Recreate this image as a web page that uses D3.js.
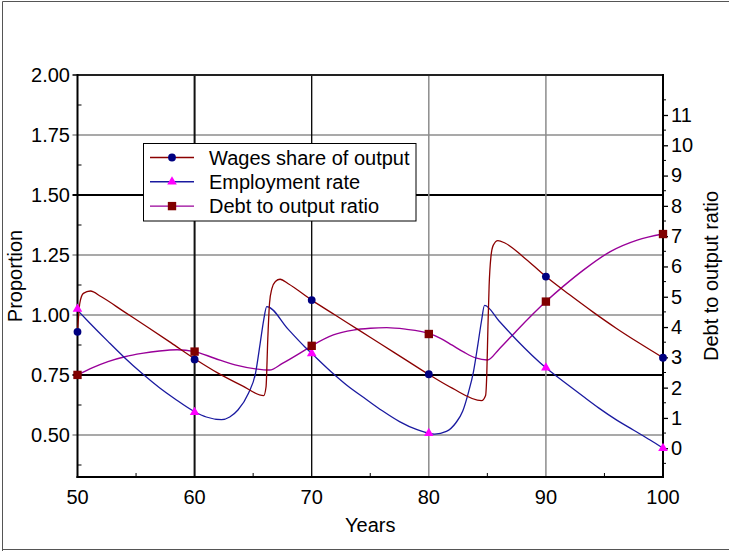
<!DOCTYPE html>
<html>
<head>
<meta charset="utf-8">
<script src="https://cdn.jsdelivr.net/npm/d3@7/dist/d3.min.js"></script>
<style>
  html, body { margin: 0; padding: 0; background: #fff; }
  svg { display: block; font-family: "Liberation Sans", Arial, sans-serif; }
</style>
</head>
<body>
<svg id="chart" width="729" height="551"></svg>
<script>
// ---- Data ----
const wagesYears = [50, 50.2, 50.5, 51.1, 52, 54, 56, 58, 60, 62, 64, 65.9, 66.1, 66.25, 66.4, 66.6, 66.9, 67.3, 68, 70, 72, 74, 76, 78, 80, 82, 84.5, 84.85, 84.95, 85.05, 85.15, 85.3, 85.5, 85.9, 86.5, 88, 90, 92, 94, 96, 98, 100];
const wagesShare = [0.93, 1.05, 1.09, 1.10, 1.077, 1.013, 0.949, 0.884, 0.818, 0.758, 0.707, 0.664, 0.70, 0.90, 1.05, 1.11, 1.14, 1.149, 1.13, 1.062, 1.0, 0.938, 0.876, 0.814, 0.752, 0.695, 0.643, 0.665, 0.75, 0.95, 1.12, 1.24, 1.29, 1.31, 1.30, 1.245, 1.16, 1.085, 1.013, 0.945, 0.882, 0.822];

const emplYears = [50, 51, 52.6, 54, 55.5, 57, 58.3, 60, 61, 62.3, 63, 63.7, 64.6, 65.2, 65.6, 65.9, 66.16, 68, 69.4, 70, 71.85, 73, 74.7, 76, 77.5, 79, 80, 80.5, 81.5, 82.3, 82.9, 83.4, 83.8, 84.2, 84.5, 84.76, 86, 87.5, 90, 91.5, 93.2, 94.5, 96.05, 97.5, 98.9, 100];
const emplRate = [1.02, 0.969, 0.89, 0.823, 0.757, 0.697, 0.651, 0.597, 0.575, 0.564, 0.575, 0.604, 0.674, 0.757, 0.882, 0.979, 1.035, 0.94, 0.868, 0.84, 0.755, 0.707, 0.647, 0.602, 0.556, 0.522, 0.507, 0.504, 0.515, 0.55, 0.60, 0.68, 0.76, 0.88, 0.975, 1.04, 0.975, 0.896, 0.78, 0.723, 0.66, 0.613, 0.562, 0.52, 0.479, 0.445];

const debtYears = [50, 51.3, 52.6, 54.05, 55.5, 57, 58.5, 60, 61.7, 63.45, 65.2, 66.4, 67.5, 69, 70, 71.85, 73.55, 75, 76.4, 78, 80, 81, 82, 83, 84, 85, 86, 87.5, 90, 91.5, 93.2, 95.5, 97.8, 100];
const debtRatio = [2.42, 2.66, 2.86, 3.02, 3.13, 3.21, 3.25, 3.19, 2.97, 2.75, 2.62, 2.58, 2.80, 3.14, 3.38, 3.74, 3.90, 3.96, 3.98, 3.93, 3.79, 3.63, 3.40, 3.17, 2.98, 2.91, 3.27, 3.88, 4.84, 5.35, 5.88, 6.49, 6.87, 7.07];

const markerYears = [50, 60, 70, 80, 90, 100];
const wagesMarkers = [0.93, 0.815, 1.062, 0.753, 1.16, 0.822];
const emplMarkers = [1.025, 0.595, 0.84, 0.507, 0.78, 0.445];
const debtMarkers = [2.42, 3.19, 3.38, 3.77, 4.84, 7.07];

const xTicks = [50, 60, 70, 80, 90, 100];
const xMinorTicks = [55, 65, 75, 85, 95];
const leftTicks = [0.50, 0.75, 1.00, 1.25, 1.50, 1.75, 2.00];
const leftMinorTicks = [0.375, 0.625, 0.875, 1.125, 1.375, 1.625, 1.875];
const rightTicks = [0, 1, 2, 3, 4, 5, 6, 7, 8, 9, 10, 11];
const rightMinorTicks = [-0.5, 0.5, 1.5, 2.5, 3.5, 4.5, 5.5, 6.5, 7.5, 8.5, 9.5, 10.5, 11.5];
const seriesNames = ["Wages share of output", "Employment rate", "Debt to output ratio"];

// ---- Layout ----
const L = 77.5, R = 663, T = 75, B = 477;
const svg = d3.select("#chart");

const x = d3.scaleLinear().domain([50, 100]).range([L, R]);
const yL = d3.scaleLinear().domain([0.325, 2.0]).range([B, T]);
const yR = d3.scaleLinear().domain([-0.95, 12.32]).range([B, T]);

// outer frame
svg.append("path").attr("d", `M2.5,551 V1.5 H729 M2.5,549.5 H729`)
  .attr("fill", "none").attr("stroke", "#555").attr("stroke-width", 1);

// horizontal gridlines
const hGridStyle = { 1.75: ["#8c8c8c", 1.5], 1.5: ["#000", 2], 1.25: ["#8c8c8c", 1.5], 1.0: ["#8c8c8c", 1.5], 0.75: ["#000", 2], 0.5: ["#8c8c8c", 1.5] };
svg.append("g").selectAll("line").data(leftTicks.filter(d => d < 2)).join("line")
  .attr("x1", L - 5).attr("x2", R)
  .attr("y1", d => yL(d)).attr("y2", d => yL(d))
  .attr("stroke", d => hGridStyle[d][0]).attr("stroke-width", d => hGridStyle[d][1]);

// vertical gridlines
const vGridStyle = { 60: ["#111", 2], 70: ["#000", 1.3], 80: ["#8c8c8c", 1.5], 90: ["#8c8c8c", 1.5] };
svg.append("g").selectAll("line").data(xTicks.filter(d => d > 50 && d < 100)).join("line")
  .attr("x1", d => x(d)).attr("x2", d => x(d))
  .attr("y1", T).attr("y2", B)
  .attr("stroke", d => vGridStyle[d][0]).attr("stroke-width", d => vGridStyle[d][1]);

// minor ticks
svg.append("g").selectAll("line").data(leftMinorTicks).join("line")
  .attr("x1", L).attr("x2", L + 4).attr("y1", d => yL(d)).attr("y2", d => yL(d))
  .attr("stroke", "#000").attr("stroke-width", 1);
svg.append("g").selectAll("line").data(xMinorTicks).join("line")
  .attr("x1", d => x(d)).attr("x2", d => x(d)).attr("y1", B).attr("y2", B - 4)
  .attr("stroke", "#000").attr("stroke-width", 1);

// plot frame
svg.append("line").attr("x1", L).attr("x2", R).attr("y1", T).attr("y2", T).attr("stroke", "#222").attr("stroke-width", 2);

// left axis line + labels
svg.append("line").attr("x1", L).attr("x2", L).attr("y1", T - 1).attr("y2", B + 1).attr("stroke", "#000").attr("stroke-width", 2);
svg.append("line").attr("x1", L - 5).attr("x2", L).attr("y1", yL(2)).attr("y2", yL(2)).attr("stroke", "#000").attr("stroke-width", 1.5);
svg.append("g").selectAll("text").data(leftTicks).join("text")
  .attr("x", 70).attr("y", d => yL(d)).attr("dy", "0.36em")
  .attr("text-anchor", "end").attr("font-size", 20).attr("fill", "#000")
  .text(d => d3.format(".2f")(d));

// bottom axis
svg.append("line").attr("x1", L - 1).attr("x2", R + 1).attr("y1", B).attr("y2", B).attr("stroke", "#000").attr("stroke-width", 2);
svg.append("g").selectAll("text").data(xTicks).join("text")
  .attr("x", d => x(d)).attr("y", 504)
  .attr("text-anchor", "middle").attr("font-size", 20).attr("fill", "#000")
  .text(d => d);
svg.append("text").attr("x", (L + R) / 2).attr("y", 532).attr("text-anchor", "middle")
  .attr("font-size", 20).text("Years");

// right axis
const rightAxis = d3.axisRight(yR).tickValues(rightTicks).tickSize(5).tickPadding(3).tickFormat(d3.format("d"));
const gR = svg.append("g").attr("transform", `translate(${R},0)`).call(rightAxis);
gR.select(".domain").remove();
gR.selectAll(".tick line").attr("stroke", "#000").attr("stroke-width", 1.3);
gR.selectAll(".tick text").attr("font-size", 20).attr("font-family", "Liberation Sans, Arial, sans-serif").attr("fill", "#000");
svg.append("g").selectAll("line").data(rightMinorTicks).join("line")
  .attr("x1", R).attr("x2", R + 3).attr("y1", d => yR(d)).attr("y2", d => yR(d))
  .attr("stroke", "#000").attr("stroke-width", 1);
svg.append("line").attr("x1", R).attr("x2", R).attr("y1", T - 1).attr("y2", B + 1).attr("stroke", "#000").attr("stroke-width", 2);

// axis titles
svg.append("text").attr("transform", `translate(22,${(T + B) / 2}) rotate(-90)`)
  .attr("text-anchor", "middle").attr("font-size", 20).text("Proportion");
svg.append("text").attr("transform", `translate(718,${(T + B) / 2}) rotate(-90)`)
  .attr("text-anchor", "middle").attr("font-size", 20).text("Debt to output ratio");

// ---- Series ----
const lineColors = ["#8b0000", "#1a1aa0", "#990099"];
const markerColors = ["#000080", "#ff00ff", "#800000"];
const curve = d3.curveMonotoneX;

const wagesLine = d3.line().x(d => x(d[0])).y(d => yL(d[1])).curve(curve);
const emplLine = d3.line().x(d => x(d[0])).y(d => yL(d[1])).curve(curve);
const debtLine = d3.line().x(d => x(d[0])).y(d => yR(d[1])).curve(curve);

svg.append("path").datum(d3.zip(debtYears, debtRatio)).attr("d", debtLine)
  .attr("fill", "none").attr("stroke", lineColors[2]).attr("stroke-width", 1.4);
svg.append("path").datum(d3.zip(emplYears, emplRate)).attr("d", emplLine)
  .attr("fill", "none").attr("stroke", lineColors[1]).attr("stroke-width", 1.3);
svg.append("path").datum(d3.zip(wagesYears, wagesShare)).attr("d", wagesLine)
  .attr("fill", "none").attr("stroke", lineColors[0]).attr("stroke-width", 1.3);

const circleSym = d3.symbol().type(d3.symbolCircle).size(48);
const triSym = d3.symbol().type(d3.symbolTriangle).size(40);
const sqSym = d3.symbol().type(d3.symbolSquare).size(70);

svg.append("g").selectAll("path").data(d3.zip(markerYears, wagesMarkers)).join("path")
  .attr("d", circleSym).attr("transform", d => `translate(${x(d[0])},${yL(d[1])})`).attr("fill", markerColors[0]);
svg.append("g").selectAll("path").data(d3.zip(markerYears, emplMarkers)).join("path")
  .attr("d", triSym).attr("transform", d => `translate(${x(d[0])},${yL(d[1])})`).attr("fill", markerColors[1]);
svg.append("g").selectAll("path").data(d3.zip(markerYears, debtMarkers)).join("path")
  .attr("d", sqSym).attr("transform", d => `translate(${x(d[0])},${yR(d[1])})`).attr("fill", markerColors[2]);

// ---- Legend ----
const lg = svg.append("g");
lg.append("rect").attr("x", 143.5).attr("y", 143.5).attr("width", 272.5).attr("height", 77.5)
  .attr("fill", "#fff").attr("stroke", "#000").attr("stroke-width", 1);
const legendSyms = [circleSym, triSym, sqSym];
seriesNames.forEach((name, i) => {
  const yy = 157.5 + i * 24.3;
  lg.append("line").attr("x1", 150).attr("x2", 194).attr("y1", yy).attr("y2", yy)
    .attr("stroke", lineColors[i]).attr("stroke-width", 1.4);
  lg.append("path").attr("d", legendSyms[i]).attr("transform", `translate(172,${yy})`).attr("fill", markerColors[i]);
  lg.append("text").attr("x", 209).attr("y", yy).attr("dy", "0.36em").attr("font-size", 20).text(name);
});
</script>
</body>
</html>
